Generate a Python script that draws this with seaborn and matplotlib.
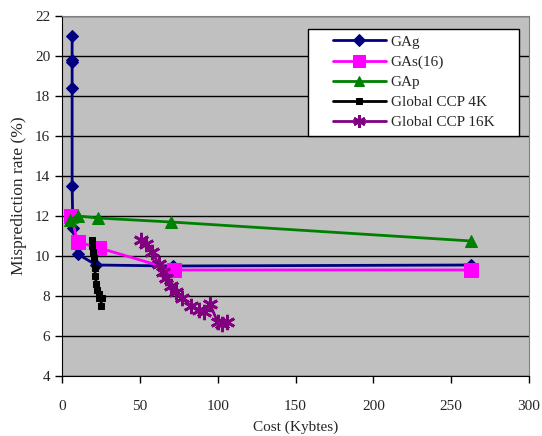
import pandas as pd
import matplotlib
matplotlib.use("Agg")
import matplotlib.pyplot as plt
from matplotlib.patches import Rectangle
import seaborn as sns

# ---- DATA ----
gag_cost = [6.5, 6.5, 6.5, 6.5, 6.5, 7, 10, 22, 71, 263]
gag_rate = [21.0, 19.8, 19.7, 18.4, 13.5, 11.4, 10.1, 9.55, 9.5, 9.55]

gas_cost = [6, 10, 24, 72, 263]
gas_rate = [12.0, 10.7, 10.4, 9.3, 9.3]

gap_cost = [5, 10, 23, 70, 263]
gap_rate = [11.8, 12.0, 11.9, 11.7, 10.75]

ccp4_cost = [19, 19.5, 20, 20.5, 21, 21.5, 22, 22.5, 24, 23.5, 25.5, 25]
ccp4_rate = [10.8, 10.5, 10.2, 9.9, 9.4, 9.0, 8.6, 8.3, 8.1, 7.9, 7.9, 7.5]

ccp16_cost = [51, 54, 58, 62, 65, 67, 70, 73, 77, 83, 88, 91, 95, 100, 103, 106]
ccp16_rate = [10.8, 10.6, 10.2, 9.6, 9.2, 8.9, 8.5, 8.2, 7.9, 7.5, 7.3, 7.2, 7.6, 6.7, 6.6, 6.7]

series_names = ["GAg", "GAs(16)", "GAp", "Global CCP 4K", "Global CCP 16K"]

# ---- STYLE ----
sns.set_style("white", {"axes.facecolor": "#C0C0C0"})
plt.rcParams["font.family"] = ["Liberation Serif", "DejaVu Serif"]
plt.rcParams["font.size"] = 11

fig = plt.figure(figsize=(5.42, 4.36), dpi=100)
ax = fig.add_axes([62 / 542, 60 / 436, 467 / 542, 360 / 436])

styles = [
    dict(color="#000080", marker="D", markersize=6.5),
    dict(color="#FF00FF", marker="s", markersize=10),
    dict(color="#008000", marker="^", markersize=9),
    dict(color="black", marker="s", markersize=4.5),
    dict(color="#800080", marker=(6, 2, 0), markersize=11, markeredgewidth=2),
]
legend_marker_sizes = [6, 8, 7, 4, 9]
data = [
    (gag_cost, gag_rate),
    (gas_cost, gas_rate),
    (gap_cost, gap_rate),
    (ccp4_cost, ccp4_rate),
    (ccp16_cost, ccp16_rate),
]

for name, (xs, ys), st in zip(series_names, data, styles):
    df = pd.DataFrame({"cost": xs, "rate": ys})
    sns.lineplot(data=df, x="cost", y="rate", sort=False, estimator=None,
                 ax=ax, label=name, linewidth=2, markeredgecolor=st["color"],
                 **st)

ax.set_xlim(0, 300)
ax.set_ylim(4, 22)
ax.set_xticks(range(0, 301, 50))
ax.set_yticks(range(4, 23, 2))
ax.yaxis.grid(True, color="black", linewidth=1)
ax.set_axisbelow(True)

ax.spines["left"].set_color("black")
ax.spines["bottom"].set_color("black")
ax.spines["top"].set_color("#808080")
ax.spines["right"].set_color("#808080")
ax.tick_params(axis="both", direction="out", length=5, width=1,
               color="black", labelsize=11, bottom=True, left=True)
ax.tick_params(axis="x", pad=12)

ax.set_xlabel("Cost (Kybtes)", fontsize=11, labelpad=6)
ax.set_ylabel("Misprediction rate (%)", fontsize=12.5, labelpad=6)

# legend box drawn by hand (Excel style: wide side padding)
box = Rectangle((246 / 467, 240 / 360), 211 / 467, 107 / 360,
                transform=ax.transAxes, facecolor="white", edgecolor="black",
                linewidth=1, zorder=5)
ax.add_patch(box)
leg = ax.legend(loc="upper left", bbox_to_anchor=(0.55, 0.985),
                frameon=False, handlelength=3.5, fontsize=11,
                labelspacing=0.42, borderpad=0.4, handletextpad=0.3)
leg.set_zorder(6)
for h, ms in zip(leg.legend_handles, legend_marker_sizes):
    h.set_markersize(ms)

fig.savefig("out.png", dpi=100)
